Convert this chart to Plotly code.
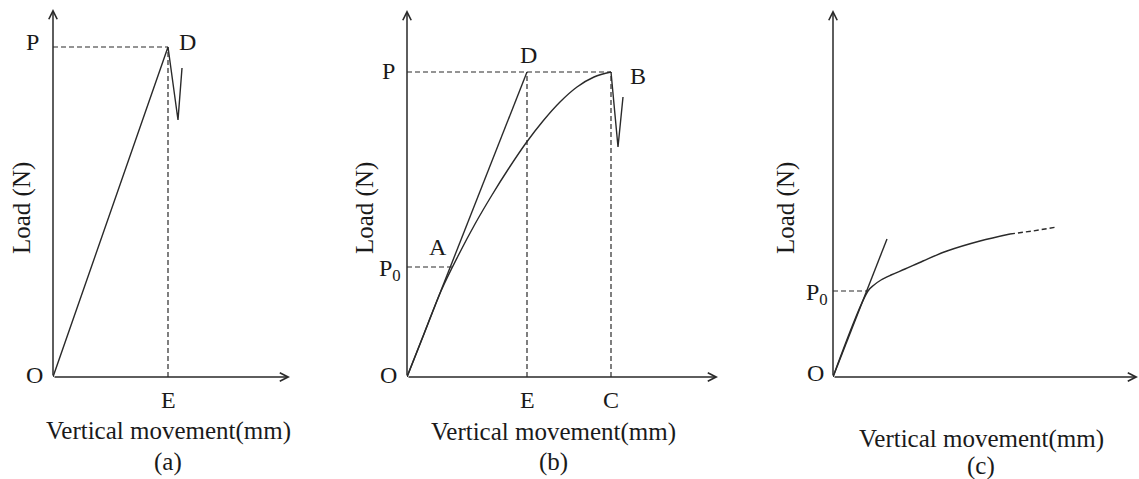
import plotly.graph_objects as go

W, H = 1139, 479

# ---------------- (a) linear loading, brittle failure at D ----------------
a_disp = [0, 115, 125, 129]
a_load = [0, 330, 257, 309]
a_E, a_P = 115, 330
a_xlen, a_ylen = 237, 368

# ---------------- (b) nonlinear loading with tangent line OD ----------------
b_tangent_disp = [0, 120]
b_tangent_load = [0, 305]
b_curve_disp = [0, 17, 34, 51, 68, 85, 102, 119, 136, 153, 170, 187, 204]
b_curve_load = [0, 43, 86, 121, 153, 182, 209, 234, 256, 275, 290, 300, 305]
b_drop_disp = [204, 211, 216]
b_drop_load = [305, 230, 280]
b_P, b_P0, b_E, b_C = 305, 110, 120, 204
b_A = 48
b_xlen, b_ylen = 311, 367

# ---------------- (c) yielding curve with no clear peak ----------------
c_tangent_disp = [0, 54]
c_tangent_load = [0, 138]
c_curve_disp = [0, 35, 41, 48, 58, 72, 90, 114, 147, 177]
c_curve_load = [0, 86, 92, 97, 102, 108, 116, 126, 136, 143]
c_tail_disp = [177, 200, 224]
c_tail_load = [143, 146, 150]
c_P0, c_A = 86, 35
c_xlen, c_ylen = 305, 367

LINE = "#2a2a2a"
TEXT = "#1a1a1a"
FONT = "Liberation Serif, Times New Roman, serif"
DASH = "5px,3px"

fig = go.Figure()


def add_line(x, y, ax, dash=None, spline=False, width=1.4, smoothing=1.0):
    fig.add_trace(go.Scatter(
        x=x, y=y, xaxis="x" + ax, yaxis="y" + ax, mode="lines",
        line=dict(color=LINE, width=width, dash=dash,
                  shape="spline" if spline else "linear", smoothing=smoothing),
        cliponaxis=False, hoverinfo="skip", showlegend=False))


annotations = []


def arrow(ax, x_tip, y_tip):
    annotations.append(dict(
        x=x_tip, y=y_tip, ax=0, ay=0, xref="x" + ax, yref="y" + ax,
        axref="x" + ax, ayref="y" + ax, text="", showarrow=True,
        arrowhead=5, arrowsize=1.1, arrowwidth=1.5, arrowcolor=LINE, standoff=0))


def label(ax, x, y, text, dx=0, dy=0, size=24, xanchor="center"):
    annotations.append(dict(
        x=x, y=y, xref="x" + ax, yref="y" + ax, text=text, showarrow=False,
        xshift=dx, yshift=dy, xanchor=xanchor, yanchor="middle",
        font=dict(family=FONT, size=size, color=TEXT)))


def paper_text(px, py, text, angle=0, size=25):
    annotations.append(dict(
        x=px / W, y=1 - py / H, xref="paper", yref="paper", text=text,
        showarrow=False, textangle=angle, xanchor="center", yanchor="middle",
        font=dict(family=FONT, size=size, color=TEXT)))


# ---- panel (a) ----
add_line([0, a_E], [a_P, a_P], "", dash=DASH, width=1.2)
add_line([a_E, a_E], [0, a_P], "", dash=DASH, width=1.2)
add_line(a_disp, a_load, "")
arrow("", a_xlen, 0)
arrow("", 0, a_ylen)
label("", 0, a_P, "P", dx=-20, dy=5)
label("", a_E, a_P, "D", dx=19, dy=5)
label("", 0, 0, "O", dx=-18, dy=2)
label("", a_E, 0, "E", dy=-23)
paper_text(22, 208, "Load (N)", angle=-90)
paper_text(168, 431, "Vertical movement(mm)")
paper_text(168, 462, "(a)")

# ---- panel (b) ----
add_line([0, b_C], [b_P, b_P], "2", dash=DASH, width=1.2)
add_line([b_E, b_E], [0, b_P], "2", dash=DASH, width=1.2)
add_line([b_C, b_C], [0, b_P], "2", dash=DASH, width=1.2)
add_line([0, b_A], [b_P0, b_P0], "2", dash=DASH, width=1.2)
add_line(b_tangent_disp, b_tangent_load, "2")
add_line(b_curve_disp, b_curve_load, "2", spline=True)
add_line(b_drop_disp, b_drop_load, "2")
arrow("2", b_xlen, 0)
arrow("2", 0, b_ylen)
label("2", 0, b_P, "P", dx=-19, dy=1)
label("2", b_E, b_P, "D", dx=1, dy=17)
label("2", b_C, b_P, "B", dx=27, dy=-4)
label("2", b_A, b_P0, "A", dx=-17, dy=20)
label("2", 0, b_P0, "P<sub>0</sub>", dx=-4, dy=-3, xanchor="right")
label("2", 0, 0, "O", dx=-19, dy=2)
label("2", b_E, 0, "E", dy=-23)
label("2", b_C, 0, "C", dy=-23)
paper_text(365, 208, "Load (N)", angle=-90)
paper_text(553, 432, "Vertical movement(mm)")
paper_text(553, 462, "(b)")

# ---- panel (c) ----
add_line([0, c_A], [c_P0, c_P0], "3", dash=DASH, width=1.2)
add_line(c_tangent_disp, c_tangent_load, "3")
add_line(c_curve_disp, c_curve_load, "3", spline=True)
add_line(c_tail_disp, c_tail_load, "3", dash=DASH)
arrow("3", c_xlen, 0)
arrow("3", 0, c_ylen)
label("3", 0, c_P0, "P<sub>0</sub>", dx=-3, dy=-3, xanchor="right")
label("3", 0, 0, "O", dx=-18, dy=4)
paper_text(786, 208, "Load (N)", angle=-90)
paper_text(981, 439, "Vertical movement(mm)")
paper_text(981, 466, "(c)")


def axes(ox, oy, xr, yr):
    x = dict(domain=[ox / W, (ox + xr) / W], range=[0, xr], visible=False, fixedrange=True)
    y = dict(domain=[(H - oy) / H, (H - oy + yr) / H], range=[0, yr], visible=False, fixedrange=True)
    return x, y


xa, ya = axes(53, 377, 245, 372)
xb, yb = axes(407, 377, 318, 372)
xc, yc = axes(833, 377, 306, 372)
xa["anchor"], ya["anchor"] = "y", "x"
xb["anchor"], yb["anchor"] = "y2", "x2"
xc["anchor"], yc["anchor"] = "y3", "x3"

fig.update_layout(
    width=W, height=H, margin=dict(l=0, r=0, t=0, b=0),
    paper_bgcolor="white", plot_bgcolor="rgba(0,0,0,0)",
    xaxis=xa, yaxis=ya, xaxis2=xb, yaxis2=yb, xaxis3=xc, yaxis3=yc,
    annotations=annotations, showlegend=False)

fig.write_html("out.html")
